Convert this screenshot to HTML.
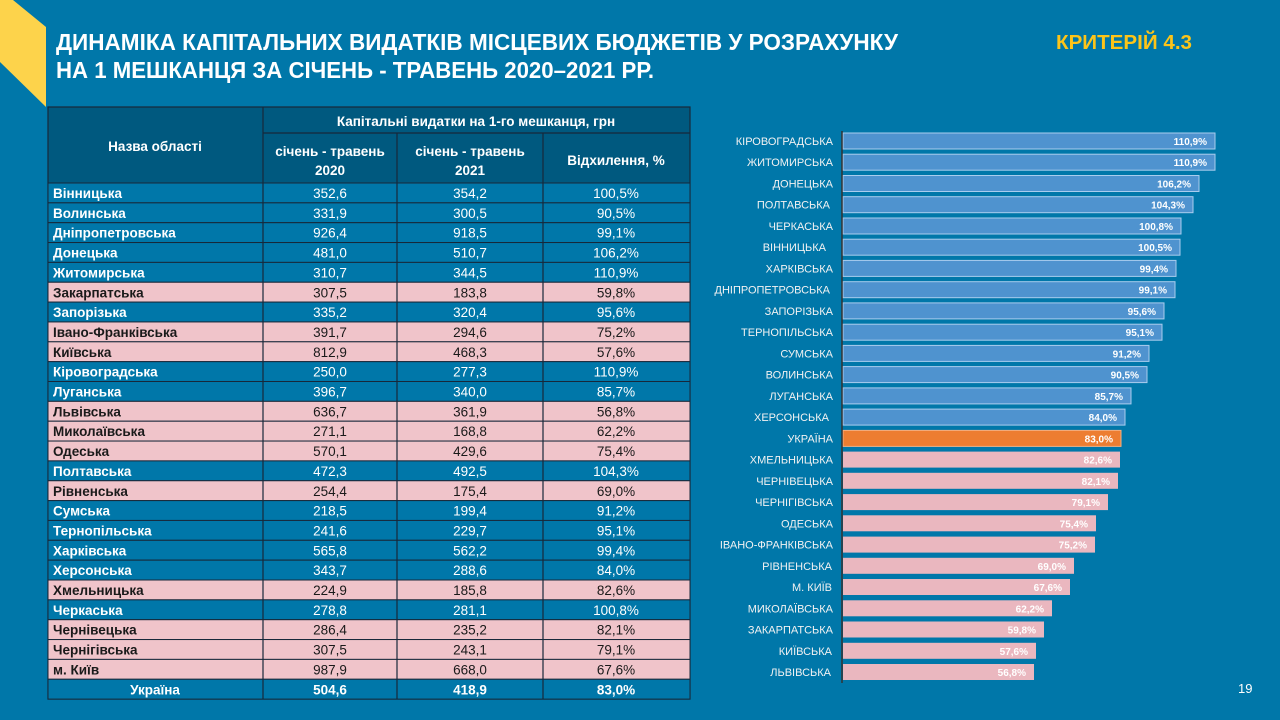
<!DOCTYPE html>
<html><head><meta charset="utf-8"><style>
html,body{margin:0;padding:0;background:#0077a9;}
svg{display:block}
text{font-family:"Liberation Sans",sans-serif;}
.n{font-size:13.5px;font-weight:bold;fill:#fff}
.v{font-size:13.5px;fill:#fff;text-anchor:middle}
.p .n,.p .v{fill:#1a1a1a}
.lab{font-size:11px;fill:#f2f2f2;text-anchor:end}
.val{font-size:10px;font-weight:bold;fill:#fff;text-anchor:end}
</style></head><body>
<svg width="1280" height="720" viewBox="0 0 1280 720" xmlns="http://www.w3.org/2000/svg">
<rect width="1280" height="720" fill="#0077a9"/>
<polygon points="0,0 13,0 46,27 46,107 0,62" fill="#fdd34b"/>
<text x="56" y="50" font-size="23" font-weight="bold" fill="#fff" textLength="842" lengthAdjust="spacingAndGlyphs">ДИНАМІКА КАПІТАЛЬНИХ ВИДАТКІВ МІСЦЕВИХ БЮДЖЕТІВ У РОЗРАХУНКУ</text>
<text x="56" y="78" font-size="23" font-weight="bold" fill="#fff" textLength="598" lengthAdjust="spacingAndGlyphs">НА 1 МЕШКАНЦЯ ЗА СІЧЕНЬ - ТРАВЕНЬ 2020–2021 РР.</text>
<text x="1056" y="49" font-size="20" font-weight="bold" fill="#fcc419" textLength="136" lengthAdjust="spacingAndGlyphs">КРИТЕРІЙ 4.3</text>

<!-- table header -->
<rect x="48" y="107" width="642" height="76" fill="#00597f"/>
<g stroke="#17283a" stroke-width="1.2" fill="none">
<rect x="48" y="107" width="642" height="592"/>
<line x1="263" y1="107" x2="263" y2="699"/>
<line x1="397" y1="133" x2="397" y2="699"/>
<line x1="543" y1="133" x2="543" y2="699"/>
<line x1="263" y1="133" x2="690" y2="133"/>
</g>
<text x="155" y="151" class="n" text-anchor="middle">Назва області</text>
<text x="476" y="126" class="n" text-anchor="middle">Капітальні видатки на 1-го мешканця, грн</text>
<text x="330" y="156" class="n" text-anchor="middle">січень - травень</text>
<text x="330" y="175" class="n" text-anchor="middle">2020</text>
<text x="470" y="156" class="n" text-anchor="middle">січень - травень</text>
<text x="470" y="175" class="n" text-anchor="middle">2021</text>
<text x="616" y="165" class="n" text-anchor="middle">Відхилення, %</text>

<g id="rows">
<g transform="translate(0,183)"><rect x="48" width="642" height="19.85" fill="#0077a9" stroke="#17283a"/><text x="53" y="15" class="n">Вінницька</text><text x="330" y="15" class="v">352,6</text><text x="470" y="15" class="v">354,2</text><text x="616" y="15" class="v">100,5%</text></g>
<g transform="translate(0,202.85)"><rect x="48" width="642" height="19.85" fill="#0077a9" stroke="#17283a"/><text x="53" y="15" class="n">Волинська</text><text x="330" y="15" class="v">331,9</text><text x="470" y="15" class="v">300,5</text><text x="616" y="15" class="v">90,5%</text></g>
<g transform="translate(0,222.7)"><rect x="48" width="642" height="19.85" fill="#0077a9" stroke="#17283a"/><text x="53" y="15" class="n">Дніпропетровська</text><text x="330" y="15" class="v">926,4</text><text x="470" y="15" class="v">918,5</text><text x="616" y="15" class="v">99,1%</text></g>
<g transform="translate(0,242.55)"><rect x="48" width="642" height="19.85" fill="#0077a9" stroke="#17283a"/><text x="53" y="15" class="n">Донецька</text><text x="330" y="15" class="v">481,0</text><text x="470" y="15" class="v">510,7</text><text x="616" y="15" class="v">106,2%</text></g>
<g transform="translate(0,262.4)"><rect x="48" width="642" height="19.85" fill="#0077a9" stroke="#17283a"/><text x="53" y="15" class="n">Житомирська</text><text x="330" y="15" class="v">310,7</text><text x="470" y="15" class="v">344,5</text><text x="616" y="15" class="v">110,9%</text></g>
<g class="p" transform="translate(0,282.25)"><rect x="48" width="642" height="19.85" fill="#f0c4ca" stroke="#17283a"/><text x="53" y="15" class="n">Закарпатська</text><text x="330" y="15" class="v">307,5</text><text x="470" y="15" class="v">183,8</text><text x="616" y="15" class="v">59,8%</text></g>
<g transform="translate(0,302.1)"><rect x="48" width="642" height="19.85" fill="#0077a9" stroke="#17283a"/><text x="53" y="15" class="n">Запорізька</text><text x="330" y="15" class="v">335,2</text><text x="470" y="15" class="v">320,4</text><text x="616" y="15" class="v">95,6%</text></g>
<g class="p" transform="translate(0,321.95)"><rect x="48" width="642" height="19.85" fill="#f0c4ca" stroke="#17283a"/><text x="53" y="15" class="n">Івано-Франківська</text><text x="330" y="15" class="v">391,7</text><text x="470" y="15" class="v">294,6</text><text x="616" y="15" class="v">75,2%</text></g>
<g class="p" transform="translate(0,341.8)"><rect x="48" width="642" height="19.85" fill="#f0c4ca" stroke="#17283a"/><text x="53" y="15" class="n">Київська</text><text x="330" y="15" class="v">812,9</text><text x="470" y="15" class="v">468,3</text><text x="616" y="15" class="v">57,6%</text></g>
<g transform="translate(0,361.65)"><rect x="48" width="642" height="19.85" fill="#0077a9" stroke="#17283a"/><text x="53" y="15" class="n">Кіровоградська</text><text x="330" y="15" class="v">250,0</text><text x="470" y="15" class="v">277,3</text><text x="616" y="15" class="v">110,9%</text></g>
<g transform="translate(0,381.5)"><rect x="48" width="642" height="19.85" fill="#0077a9" stroke="#17283a"/><text x="53" y="15" class="n">Луганська</text><text x="330" y="15" class="v">396,7</text><text x="470" y="15" class="v">340,0</text><text x="616" y="15" class="v">85,7%</text></g>
<g class="p" transform="translate(0,401.35)"><rect x="48" width="642" height="19.85" fill="#f0c4ca" stroke="#17283a"/><text x="53" y="15" class="n">Львівська</text><text x="330" y="15" class="v">636,7</text><text x="470" y="15" class="v">361,9</text><text x="616" y="15" class="v">56,8%</text></g>
<g class="p" transform="translate(0,421.2)"><rect x="48" width="642" height="19.85" fill="#f0c4ca" stroke="#17283a"/><text x="53" y="15" class="n">Миколаївська</text><text x="330" y="15" class="v">271,1</text><text x="470" y="15" class="v">168,8</text><text x="616" y="15" class="v">62,2%</text></g>
<g class="p" transform="translate(0,441.05)"><rect x="48" width="642" height="19.85" fill="#f0c4ca" stroke="#17283a"/><text x="53" y="15" class="n">Одеська</text><text x="330" y="15" class="v">570,1</text><text x="470" y="15" class="v">429,6</text><text x="616" y="15" class="v">75,4%</text></g>
<g transform="translate(0,460.9)"><rect x="48" width="642" height="19.85" fill="#0077a9" stroke="#17283a"/><text x="53" y="15" class="n">Полтавська</text><text x="330" y="15" class="v">472,3</text><text x="470" y="15" class="v">492,5</text><text x="616" y="15" class="v">104,3%</text></g>
<g class="p" transform="translate(0,480.75)"><rect x="48" width="642" height="19.85" fill="#f0c4ca" stroke="#17283a"/><text x="53" y="15" class="n">Рівненська</text><text x="330" y="15" class="v">254,4</text><text x="470" y="15" class="v">175,4</text><text x="616" y="15" class="v">69,0%</text></g>
<g transform="translate(0,500.6)"><rect x="48" width="642" height="19.85" fill="#0077a9" stroke="#17283a"/><text x="53" y="15" class="n">Сумська</text><text x="330" y="15" class="v">218,5</text><text x="470" y="15" class="v">199,4</text><text x="616" y="15" class="v">91,2%</text></g>
<g transform="translate(0,520.45)"><rect x="48" width="642" height="19.85" fill="#0077a9" stroke="#17283a"/><text x="53" y="15" class="n">Тернопільська</text><text x="330" y="15" class="v">241,6</text><text x="470" y="15" class="v">229,7</text><text x="616" y="15" class="v">95,1%</text></g>
<g transform="translate(0,540.3)"><rect x="48" width="642" height="19.85" fill="#0077a9" stroke="#17283a"/><text x="53" y="15" class="n">Харківська</text><text x="330" y="15" class="v">565,8</text><text x="470" y="15" class="v">562,2</text><text x="616" y="15" class="v">99,4%</text></g>
<g transform="translate(0,560.15)"><rect x="48" width="642" height="19.85" fill="#0077a9" stroke="#17283a"/><text x="53" y="15" class="n">Херсонська</text><text x="330" y="15" class="v">343,7</text><text x="470" y="15" class="v">288,6</text><text x="616" y="15" class="v">84,0%</text></g>
<g class="p" transform="translate(0,580)"><rect x="48" width="642" height="19.85" fill="#f0c4ca" stroke="#17283a"/><text x="53" y="15" class="n">Хмельницька</text><text x="330" y="15" class="v">224,9</text><text x="470" y="15" class="v">185,8</text><text x="616" y="15" class="v">82,6%</text></g>
<g transform="translate(0,599.85)"><rect x="48" width="642" height="19.85" fill="#0077a9" stroke="#17283a"/><text x="53" y="15" class="n">Черкаська</text><text x="330" y="15" class="v">278,8</text><text x="470" y="15" class="v">281,1</text><text x="616" y="15" class="v">100,8%</text></g>
<g class="p" transform="translate(0,619.7)"><rect x="48" width="642" height="19.85" fill="#f0c4ca" stroke="#17283a"/><text x="53" y="15" class="n">Чернівецька</text><text x="330" y="15" class="v">286,4</text><text x="470" y="15" class="v">235,2</text><text x="616" y="15" class="v">82,1%</text></g>
<g class="p" transform="translate(0,639.55)"><rect x="48" width="642" height="19.85" fill="#f0c4ca" stroke="#17283a"/><text x="53" y="15" class="n">Чернігівська</text><text x="330" y="15" class="v">307,5</text><text x="470" y="15" class="v">243,1</text><text x="616" y="15" class="v">79,1%</text></g>
<g class="p" transform="translate(0,659.4)"><rect x="48" width="642" height="19.85" fill="#f0c4ca" stroke="#17283a"/><text x="53" y="15" class="n">м. Київ</text><text x="330" y="15" class="v">987,9</text><text x="470" y="15" class="v">668,0</text><text x="616" y="15" class="v">67,6%</text></g>
<g transform="translate(0,679.25)"><rect x="48" width="642" height="19.85" fill="#0077a9" stroke="#17283a"/><text x="155" y="15" class="n" text-anchor="middle">Україна</text><text x="330" y="15" class="v" font-weight="bold">504,6</text><text x="470" y="15" class="v" font-weight="bold">418,9</text><text x="616" y="15" class="v" font-weight="bold">83,0%</text></g>
</g>
<g stroke="#17283a" stroke-width="1.2">
<line x1="263" y1="183" x2="263" y2="699"/><line x1="397" y1="183" x2="397" y2="699"/><line x1="543" y1="183" x2="543" y2="699"/>
</g>

<!-- chart -->
<g>
<g fill="#4f93cf" stroke="#a9cdee" stroke-width="1">
<rect x="843" y="133" width="372" height="16"/>
<rect x="843" y="154.2" width="372" height="16"/>
<rect x="843" y="175.5" width="356" height="16"/>
<rect x="843" y="196.7" width="350" height="16"/>
<rect x="843" y="218" width="338" height="16"/>
<rect x="843" y="239.2" width="337" height="16"/>
<rect x="843" y="260.4" width="333" height="16"/>
<rect x="843" y="281.7" width="332" height="16"/>
<rect x="843" y="302.9" width="321" height="16"/>
<rect x="843" y="324.2" width="319" height="16"/>
<rect x="843" y="345.4" width="306" height="16"/>
<rect x="843" y="366.6" width="304" height="16"/>
<rect x="843" y="387.9" width="288" height="16"/>
<rect x="843" y="409.1" width="282" height="16"/>
</g>
<rect x="843" y="430.4" width="278" height="16" fill="#ed7d31" stroke="#f3b083"/>
<g fill="#eab7bf">
<rect x="843" y="451.6" width="277" height="16"/>
<rect x="843" y="472.8" width="275" height="16"/>
<rect x="843" y="494.1" width="265" height="16"/>
<rect x="843" y="515.3" width="253" height="16"/>
<rect x="843" y="536.6" width="252" height="16"/>
<rect x="843" y="557.8" width="231" height="16"/>
<rect x="843" y="579" width="227" height="16"/>
<rect x="843" y="600.3" width="209" height="16"/>
<rect x="843" y="621.5" width="201" height="16"/>
<rect x="843" y="642.8" width="193" height="16"/>
<rect x="843" y="664" width="191" height="16"/>
</g>
<line x1="842" y1="131" x2="842" y2="683" stroke="#333" stroke-width="1.5"/>
<g class="lab">
<text x="833" y="145">КІРОВОГРАДСЬКА</text>
<text x="833" y="166.2">ЖИТОМИРСЬКА</text>
<text x="833" y="187.5">ДОНЕЦЬКА</text>
<text x="830" y="208.7">ПОЛТАВСЬКА</text>
<text x="833" y="230">ЧЕРКАСЬКА</text>
<text x="826" y="251.2">ВІННИЦЬКА</text>
<text x="833" y="272.4">ХАРКІВСЬКА</text>
<text x="830" y="293.7">ДНІПРОПЕТРОВСЬКА</text>
<text x="833" y="314.9">ЗАПОРІЗЬКА</text>
<text x="833" y="336.2">ТЕРНОПІЛЬСЬКА</text>
<text x="833" y="357.4">СУМСЬКА</text>
<text x="833" y="378.6">ВОЛИНСЬКА</text>
<text x="833" y="399.9">ЛУГАНСЬКА</text>
<text x="829" y="421.1">ХЕРСОНСЬКА</text>
<text x="833" y="442.4">УКРАЇНА</text>
<text x="833" y="463.6">ХМЕЛЬНИЦЬКА</text>
<text x="833" y="484.8">ЧЕРНІВЕЦЬКА</text>
<text x="833" y="506.1">ЧЕРНІГІВСЬКА</text>
<text x="833" y="527.3">ОДЕСЬКА</text>
<text x="833" y="548.6">ІВАНО-ФРАНКІВСЬКА</text>
<text x="832" y="569.8">РІВНЕНСЬКА</text>
<text x="832" y="591">М. КИЇВ</text>
<text x="833" y="612.3">МИКОЛАЇВСЬКА</text>
<text x="833" y="633.5">ЗАКАРПАТСЬКА</text>
<text x="832" y="654.8">КИЇВСЬКА</text>
<text x="831" y="676">ЛЬВІВСЬКА</text>
</g>
<g class="val">
<text x="1207" y="145">110,9%</text>
<text x="1207" y="166.2">110,9%</text>
<text x="1191" y="187.5">106,2%</text>
<text x="1185" y="208.7">104,3%</text>
<text x="1173" y="230">100,8%</text>
<text x="1172" y="251.2">100,5%</text>
<text x="1168" y="272.4">99,4%</text>
<text x="1167" y="293.7">99,1%</text>
<text x="1156" y="314.9">95,6%</text>
<text x="1154" y="336.2">95,1%</text>
<text x="1141" y="357.4">91,2%</text>
<text x="1139" y="378.6">90,5%</text>
<text x="1123" y="399.9">85,7%</text>
<text x="1117" y="421.1">84,0%</text>
<text x="1113" y="442.4">83,0%</text>
<text x="1112" y="463.6">82,6%</text>
<text x="1110" y="484.8">82,1%</text>
<text x="1100" y="506.1">79,1%</text>
<text x="1088" y="527.3">75,4%</text>
<text x="1087" y="548.6">75,2%</text>
<text x="1066" y="569.8">69,0%</text>
<text x="1062" y="591">67,6%</text>
<text x="1044" y="612.3">62,2%</text>
<text x="1036" y="633.5">59,8%</text>
<text x="1028" y="654.8">57,6%</text>
<text x="1026" y="676">56,8%</text>
</g>
</g>
<text x="1238" y="693" font-size="13" fill="#fff">19</text>
</svg>
</body></html>
